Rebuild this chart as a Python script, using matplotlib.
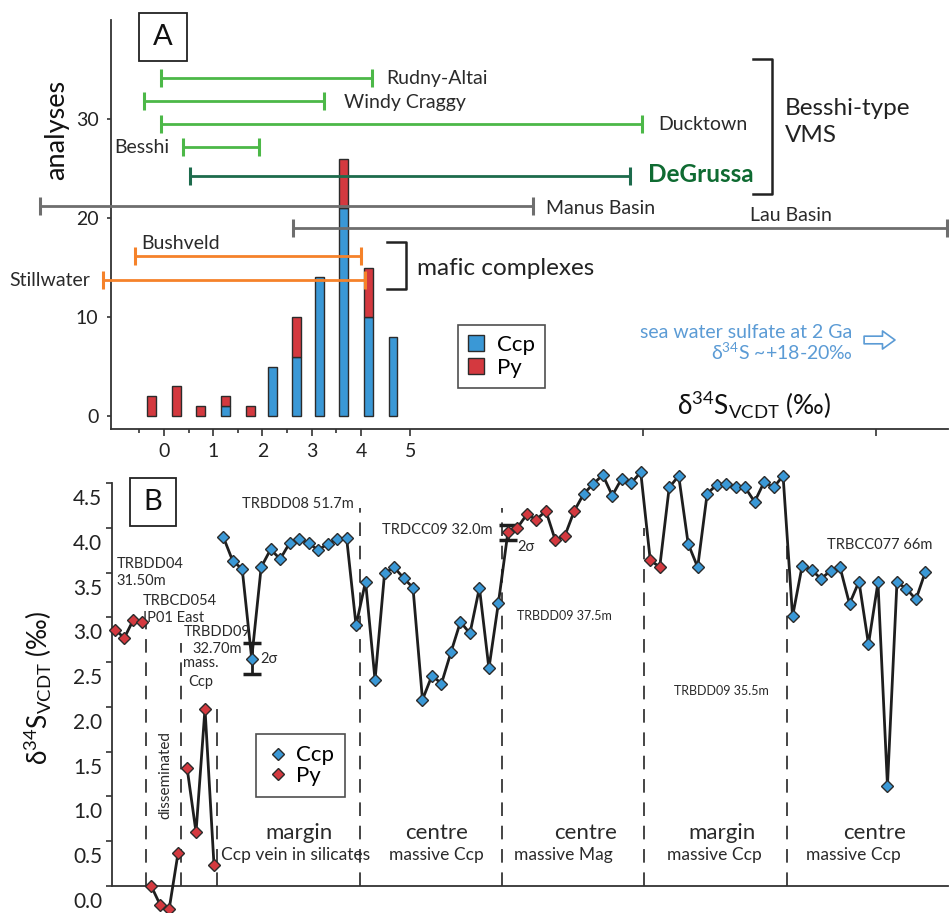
import numpy as np
import matplotlib
matplotlib.use('Agg')
import matplotlib.pyplot as plt
import matplotlib.transforms as mtransforms
from matplotlib.patches import Patch, Rectangle
from matplotlib.lines import Line2D

plt.rcParams['font.family'] = ['Lato', 'DejaVu Sans']
plt.rcParams['mathtext.default'] = 'regular'

# ---------------- data: panel A histogram ----------------
bin_centres = [-0.25, 0.25, 0.75, 1.25, 1.75, 2.2, 2.7, 3.15, 3.65, 4.15, 4.65]
ccp_counts = [0, 0, 0, 1, 0, 5, 6, 14, 21, 10, 8]
py_counts = [2, 3, 1, 1, 1, 0, 4, 0, 5, 5, 0]

# literature ranges of d34S (permil)
deposits = ['Rudny-Altai', 'Windy Craggy', 'Ducktown', 'Besshi', 'DeGrussa',
            'Manus Basin', 'Lau Basin', 'Bushveld', 'Stillwater']
range_lo = [-0.06, -0.4, -0.06, 0.39, 0.53, -2.52, 2.62, -0.58, -1.23]
range_hi = [4.22, 3.25, 9.7, 1.93, 9.47, 7.5, 15.9, 4.0, 4.08]

# ---------------- data: panel B profiles ----------------
trbdd04 = [2.86, 2.77, 2.97, 2.95]
trbcd054 = [0.00, -0.21, -0.26, 0.37]
trbdd09_327 = [1.32, 0.60, 1.98, 0.24]
trbdd08 = [3.90, 3.63, 3.54, 2.54, 3.56, 3.76, 3.65, 3.83, 3.87, 3.83, 3.75, 3.82, 3.87, 3.89, 2.91]
trdcc09 = [3.40, 2.30, 3.49, 3.56, 3.44, 3.33, 2.08, 2.35, 2.26, 2.61, 2.95, 2.82, 3.33, 2.43, 3.16]
trbdd09_375 = [3.95, 4.00, 4.15, 4.09, 4.19, 3.86, 3.91, 4.19, 4.38, 4.49, 4.59, 4.36, 4.55, 4.50, 4.62]
trbdd09_355 = [3.64, 3.56, 4.45, 4.58, 3.82, 3.56, 4.38, 4.48, 4.49, 4.46, 4.45, 4.29, 4.51, 4.45, 4.58]
trbcc077 = [3.01, 3.57, 3.53, 3.43, 3.52, 3.56, 3.15, 3.40, 2.70, 3.39, 1.12, 3.39, 3.32, 3.20, 3.51]
# number of pyrite analyses at the start of each profile, rest chalcopyrite
py_first = [0, 0, 8, 2, 0]

# ---------------- colours ----------------
blue = '#3a98d6'
red = '#d4393f'
lgreen = '#4cb848'
dgreen = '#1d6b4c'
grey = '#6e6e6e'
orange = '#f5822a'
skyblue = '#5b9bd5'
edge = '#2b2b2b'
txt = '#2a2a2a'
range_col = [lgreen, lgreen, lgreen, lgreen, dgreen, grey, grey, orange, orange]
row_y = [34.1, 31.85, 29.5, 27.2, 24.2, 21.25, 18.95, 16.2, 13.75]

W, H = 949, 913
fig = plt.figure(figsize=(W / 100, H / 100), dpi=100)

def fbox(x0, y0, x1, y1):
    # pixel box (top-left origin) -> figure fraction
    return [x0 / W, 1 - y1 / H, (x1 - x0) / W, (y1 - y0) / H]

# =============== panel A ===============
axA = fig.add_axes(fbox(111, 20, 948, 429))
axA.set_xlim(-1.075, 15.92)
axA.set_ylim(-1.31, 40)

bc = np.array(bin_centres)
cc = np.array(ccp_counts)
pc = np.array(py_counts)
m = cc > 0
axA.bar(bc[m], cc[m], width=0.18, color=blue, edgecolor=edge, linewidth=1, zorder=2)
m = pc > 0
axA.bar(bc[m], pc[m], bottom=cc[m], width=0.18, color=red, edgecolor=edge, linewidth=1, zorder=2)

for lo, hi, y, c in zip(range_lo, range_hi, row_y, range_col):
    axA.plot([lo, hi], [y, y], color=c, lw=2, marker='|', markersize=13, mew=2.2,
             clip_on=False, zorder=3, solid_capstyle='butt')

lab_kw = dict(fontsize=14, color=txt, va='center')
axA.text(4.52, 34.1, 'Rudny-Altai', ha='left', **lab_kw)
axA.text(3.65, 31.7, 'Windy Craggy', ha='left', **lab_kw)
axA.text(10.04, 29.4, 'Ducktown', ha='left', **lab_kw)
axA.text(0.12, 27.1, 'Besshi', ha='right', **lab_kw)
axA.text(9.82, 24.4, 'DeGrussa', ha='left', va='center', fontsize=17.5,
         fontweight='bold', color='#0f6b32')
axA.text(7.75, 21.0, 'Manus Basin', ha='left', **lab_kw)
axA.text(11.9, 20.3, 'Lau Basin', ha='left', **lab_kw)
axA.text(-0.47, 17.4, 'Bushveld', ha='left', **lab_kw)
axA.text(-1.5, 13.7, 'Stillwater', ha='right', **lab_kw)

# brackets
axA.plot([11.97, 12.35, 12.35, 11.97], [36.06, 36.06, 22.42, 22.42], color='#222222',
         lw=1.8, clip_on=False)
axA.plot([4.52, 4.91, 4.91, 4.52], [17.58, 17.58, 12.83, 12.83], color='#222222',
         lw=1.8, clip_on=False)
axA.text(12.6, 29.7, 'Besshi-type\nVMS', fontsize=17.5, color='#222222', va='center',
         ha='left', linespacing=1.3)
axA.text(5.13, 14.95, 'mafic complexes', fontsize=17.5, color='#222222', va='center', ha='left')

axA.text(13.98, 8.48, 'sea water sulfate at 2 Ga', fontsize=14, color=skyblue,
         ha='right', va='center')
axA.text(13.98, 6.46, 'δ$^{34}$S ~+18-20‰', fontsize=14, color=skyblue,
         ha='right', va='center')
axA.annotate('', xy=(14.9, 7.68), xytext=(14.16, 7.68),
             arrowprops=dict(arrowstyle='simple,head_length=0.9,head_width=1.3,tail_width=0.55',
                             fc='white', ec=skyblue, lw=1.2))

axA.text(11.99, 1.1, 'δ$^{34}$S$_{VCDT}$ (‰)', fontsize=19, color='#111111',
         ha='center', va='center')

axA.spines['top'].set_visible(False)
axA.spines['right'].set_visible(False)
for s in ['left', 'bottom']:
    axA.spines[s].set_color('#333333')
    axA.spines[s].set_linewidth(1.3)
axA.set_yticks([0, 10, 20, 30])
axA.tick_params(axis='y', length=3, width=1.2, color='#333333', labelsize=14,
                labelcolor='#222222', pad=6)
axA.set_xticks([0, 1, 2, 3, 4, 5, 9.72, 14.46])
axA.set_xticklabels(['0', '1', '2', '3', '4', '5', '', ''])
axA.set_xticks([-0.5, 0.5, 1.5, 2.5, 3.5], minor=True)
axA.tick_params(axis='x', which='major', length=5, width=1.2, color='#333333',
                labelsize=14, labelcolor='#222222', pad=5)
axA.tick_params(axis='x', which='minor', length=3, width=1.2, color='#333333')

legA = axA.legend(handles=[Patch(facecolor=blue, edgecolor=edge, label='Ccp'),
                           Patch(facecolor=red, edgecolor=edge, label='Py')],
                  loc='upper left', bbox_to_anchor=(458 / W, 1 - 325 / H),
                  bbox_transform=fig.transFigure, fontsize=16, frameon=True,
                  fancybox=False, handlelength=0.7, handleheight=0.7,
                  handletextpad=0.6, borderpad=0.45, labelspacing=0.12,
                  borderaxespad=0)
legA.get_frame().set_edgecolor('#222222')
legA.get_frame().set_linewidth(1.2)

fig.text(57 / W, 1 - 130 / H, 'analyses', rotation=90, fontsize=19.5, color='#111111',
         ha='center', va='center')

# panel letters
fig.patches.append(Rectangle((139 / W, 1 - 61 / H), 48 / W, 48 / H, transform=fig.transFigure,
                             fill=False, ec='#222222', lw=1.3))
fig.text(163 / W, 1 - 37 / H, 'A', fontsize=21, ha='center', va='center', color='#111111')
fig.patches.append(Rectangle((130 / W, 1 - 525.7 / H), 46 / W, 48 / H, transform=fig.transFigure,
                             fill=False, ec='#222222', lw=1.3))
fig.text(153 / W, 1 - 501.7 / H, 'B', fontsize=21, ha='center', va='center', color='#111111')

# =============== panel B ===============
axB = fig.add_axes(fbox(112, 483, 948, 886))
axB.set_xlim(-0.35, 87.75)
axB.set_ylim(0, 4.5)

msz = 5.8
early = [trbdd04, trbcd054, trbdd09_327]
x_early = np.arange(12) * 0.945
for k, seg in enumerate(early):
    xs = x_early[4 * k:4 * k + 4]
    axB.plot(xs, seg, color='#1e1e1e', lw=2, zorder=3, clip_on=False)
    axB.plot(xs, seg, ls='none', marker='D', markersize=msz, mfc=red, mec=edge,
             mew=1, zorder=4, clip_on=False)

main = [trbdd08, trdcc09, trbdd09_375, trbdd09_355, trbcc077]
y_main = np.concatenate(main)
x_main = 11.37 + np.arange(len(y_main))
is_py = np.concatenate([[i < n for i in range(len(seg))] for seg, n in zip(main, py_first)])
axB.plot(x_main, y_main, color='#1e1e1e', lw=2, zorder=3, clip_on=False)
axB.plot(x_main[~is_py], y_main[~is_py], ls='none', marker='D', markersize=msz, mfc=blue,
         mec=edge, mew=1, zorder=4, clip_on=False)
axB.plot(x_main[is_py], y_main[is_py], ls='none', marker='D', markersize=msz, mfc=red,
         mec=edge, mew=1, zorder=4, clip_on=False)

# 2 sigma error bars
axB.errorbar([x_main[3]], [trbdd08[3]], yerr=[0.17], fmt='none', ecolor='#1e1e1e',
             elinewidth=2, capsize=6.5, capthick=2.5, zorder=2)
axB.errorbar([x_main[30]], [trbdd09_375[0]], yerr=[0.085], fmt='none', ecolor='#1e1e1e',
             elinewidth=2, capsize=6.5, capthick=2.5, zorder=2)

# section separators
sep_x = [(x_early[3] + x_early[4]) / 2, (x_early[7] + x_early[8]) / 2,
         (x_early[11] + x_main[0]) / 2] + [(x_main[15 * k - 1] + x_main[15 * k]) / 2 for k in range(1, 5)]
sep_top = [2.95, 2.71, 2.04, 4.22, 4.22, 4.0, 4.0]
for xs, yt in zip(sep_x, sep_top):
    axB.plot([xs - 0.12, xs - 0.12], [0, yt], color='#444444', lw=1.4,
             dashes=(7, 5), zorder=1)

small = dict(fontsize=10.5, color=txt)
axB.text(0.15, 3.5, 'TRBDD04\n31.50m', ha='left', va='center', linespacing=1.3, **small)
axB.text(2.89, 3.09, 'TRBCD054\nIP01 East', ha='left', va='center', linespacing=1.3, **small)
axB.text(10.72, 2.74, 'TRBDD09\n32.70m', ha='center', va='center', linespacing=1.3, **small)
axB.text(9.03, 2.38, 'mass.\nCcp', ha='center', va='center', linespacing=1.45, **small)
axB.text(5.24, 1.24, 'disseminated', rotation=90, ha='center', va='center', fontsize=11,
         color=txt)
axB.text(15.32, 2.54, '2σ', ha='left', va='center', **small)
axB.text(13.38, 4.26, 'TRBDD08 51.7m', ha='left', va='center', **small)
axB.text(28.07, 3.97, 'TRDCC09 32.0m', ha='left', va='center', **small)
axB.text(42.36, 3.02, 'TRBDD09 37.5m', ha='left', va='center', fontsize=9, color=txt)
axB.text(42.4, 3.79, '2σ', ha='left', va='center', **small)
axB.text(58.87, 2.18, 'TRBDD09 35.5m', ha='left', va='center', fontsize=9, color=txt)
axB.text(74.96, 3.81, 'TRBCC077 66m', ha='left', va='center', **small)

zones = [('margin', 'Ccp vein in silicates', 19.36, 19.02),
         ('centre', 'massive Ccp', 33.87, 33.85),
         ('centre', 'massive Mag', 49.57, 47.25),
         ('margin', 'massive Ccp', 63.96, 63.16),
         ('centre', 'massive Ccp', 80.05, 77.73)]
for big, sub, xb, xs in zones:
    axB.text(xb, 0.59, big, fontsize=16, color=txt, ha='center', va='center')
    axB.text(xs, 0.35, sub, fontsize=12.5, color=txt, ha='center', va='center')

axB.spines['top'].set_visible(False)
axB.spines['right'].set_visible(False)
for s in ['left', 'bottom']:
    axB.spines[s].set_color('#333333')
    axB.spines[s].set_linewidth(1.3)
axB.set_xticks([])
axB.set_yticks(np.arange(0, 4.51, 0.5))
axB.set_yticklabels(['%.1f' % v for v in np.arange(0, 4.51, 0.5)])
axB.tick_params(axis='y', length=4, width=1.2, color='#333333', labelsize=15,
                labelcolor='#222222', pad=3)
shift = mtransforms.ScaledTranslation(0, -0.14, fig.dpi_scale_trans)
for lab in axB.get_yticklabels():
    lab.set_transform(lab.get_transform() + shift)

legB = axB.legend(handles=[Line2D([], [], ls='none', marker='D', markersize=msz, mfc=blue,
                                  mec=edge, label='Ccp'),
                           Line2D([], [], ls='none', marker='D', markersize=msz, mfc=red,
                                  mec=edge, label='Py')],
                  loc='upper left', bbox_to_anchor=(256 / W, 1 - 734.3 / H),
                  bbox_transform=fig.transFigure, fontsize=16, frameon=True,
                  fancybox=False, handlelength=1.0, handletextpad=0.3,
                  borderpad=0.5, labelspacing=0.02, borderaxespad=0)
legB.get_frame().set_edgecolor('#222222')
legB.get_frame().set_linewidth(1.2)

fig.text(38 / W, 1 - 688 / H, 'δ$^{34}$S$_{VCDT}$ (‰)', rotation=90, fontsize=19,
         color='#111111', ha='center', va='center')

fig.savefig('out.png', dpi=100)
